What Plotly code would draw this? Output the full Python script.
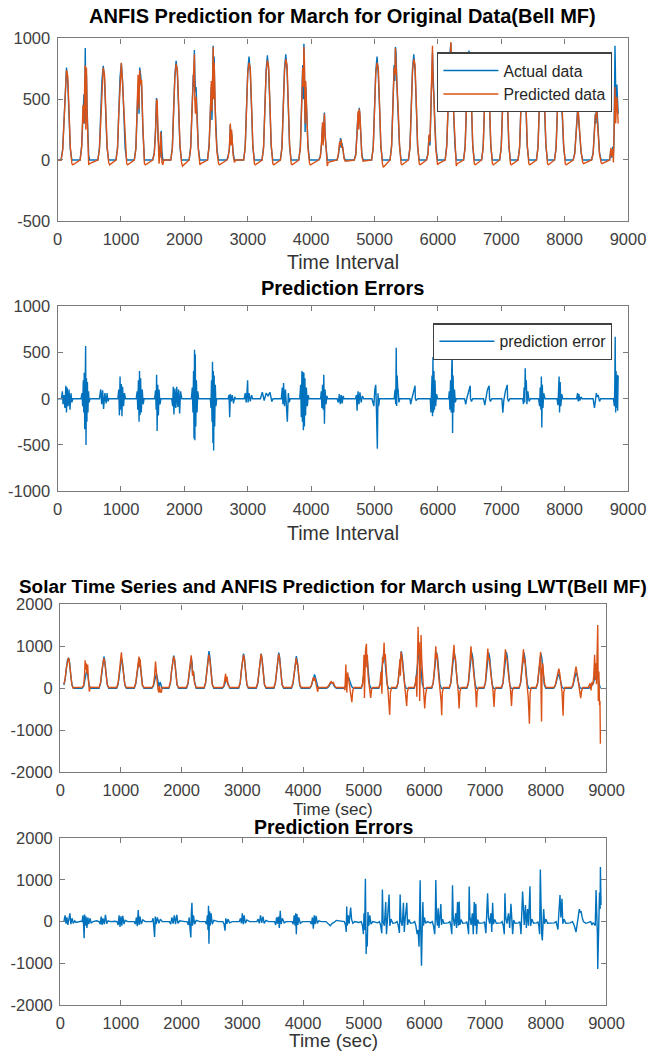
import plotly.graph_objects as go

# ---------------- Panel 1: ANFIS prediction (original data) ----------------
p1_x = [0, 55, 80, 100, 120, 140, 160, 180, 200, 225, 240,
        355, 380, 400, 415, 425, 436, 445, 455, 465, 475, 490, 505,
        635, 660, 680, 700, 720, 740, 760, 780, 805, 820,
        920, 945, 965, 985, 1005, 1025, 1045, 1065, 1090, 1105,
        1210, 1235, 1255, 1270, 1285, 1295, 1310, 1325, 1345, 1370, 1385,
        1500, 1525, 1545, 1560, 1570, 1585, 1600, 1615, 1625, 1635, 1645, 1660, 1675,
        1785, 1810, 1830, 1850, 1870, 1890, 1910, 1930, 1955, 1970,
        2075, 2100, 2120, 2140, 2150, 2158, 2165, 2175, 2185, 2200, 2220, 2245, 2260,
        2365, 2390, 2410, 2425, 2435, 2445, 2455, 2462, 2470, 2480, 2495, 2515, 2540, 2555,
        2670, 2690, 2710, 2725, 2735, 2745, 2755, 2770, 2790, 2810,
        2935, 2960, 2980, 3000, 3020, 3040, 3060, 3080, 3105, 3120,
        3225, 3250, 3270, 3290, 3310, 3330, 3350, 3370, 3395, 3410,
        3515, 3540, 3560, 3580, 3600, 3620, 3640, 3660, 3685, 3700,
        3805, 3830, 3850, 3868, 3878, 3886, 3895, 3905, 3915, 3930, 3950, 3975, 3990,
        4120, 4145, 4165, 4180, 4190, 4200, 4210, 4220, 4235, 4255, 4270,
        4410, 4430, 4450, 4465, 4475, 4485, 4500, 4520, 4540,
        4680, 4705, 4725, 4740, 4750, 4760, 4770, 4785, 4800, 4820,
        4955, 4980, 5000, 5020, 5040, 5060, 5080, 5100, 5125, 5140,
        5245, 5270, 5290, 5310, 5322, 5330, 5340, 5355, 5375, 5395, 5420, 5435,
        5535, 5560, 5580, 5600, 5620, 5640, 5660, 5680, 5705, 5720,
        5820, 5845, 5860, 5875, 5890, 5905, 5915, 5925, 5935, 5950, 5970, 5995, 6010,
        6115, 6140, 6160, 6180, 6195, 6205, 6215, 6230, 6250, 6270, 6290, 6305,
        6405, 6430, 6450, 6470, 6490, 6510, 6530, 6550, 6575, 6590,
        6690, 6715, 6735, 6755, 6775, 6795, 6815, 6835, 6860, 6875,
        6975, 7000, 7020, 7040, 7060, 7080, 7100, 7120, 7145, 7160,
        7265, 7290, 7310, 7330, 7350, 7370, 7390, 7410, 7435, 7450,
        7555, 7580, 7600, 7620, 7640, 7655, 7670, 7685, 7705, 7730, 7745,
        7840, 7865, 7885, 7905, 7925, 7945, 7965, 7985, 8010, 8025,
        8135, 8160, 8180, 8195, 8210, 8225, 8240, 8260, 8285, 8300,
        8425, 8450, 8470, 8485, 8495, 8505, 8515, 8530, 8550, 8575, 8590,
        8710, 8730, 8745, 8760, 8770, 8780, 8788, 8795, 8805, 8815, 8825, 8835, 8845]

p1_actual = [0, 0, 90, 350, 640, 760, 640, 350, 90, 0, 0,
             0, 120, 480, 540, 300, 920, 480, 700, 420, 250, 40, 0,
             0, 100, 380, 660, 775, 660, 380, 100, 0, 0,
             0, 100, 400, 680, 795, 650, 380, 100, 0, 0,
             0, 100, 400, 620, 380, 760, 700, 600, 250, 0, 0,
             0, 60, 250, 510, 420, 180, 60, 20, 120, 240, 80, 0, 0,
             0, 100, 420, 700, 815, 700, 420, 110, 0, 0,
             0, 110, 420, 700, 600, 905, 700, 560, 600, 350, 100, 0, 0,
             0, 120, 430, 600, 330, 800, 940, 600, 850, 500, 300, 80, 0, 0,
             0, 30, 90, 290, 160, 220, 100, 60, 0, 0,
             0, 110, 430, 730, 850, 720, 430, 110, 0, 0,
             0, 110, 440, 740, 860, 730, 440, 110, 0, 0,
             0, 110, 440, 750, 870, 740, 440, 110, 0, 0,
             0, 110, 450, 780, 500, 955, 700, 230, 600, 420, 120, 0, 0,
             0, 30, 130, 280, 150, 300, 390, 200, 80, 0, 0,
             0, 40, 120, 180, 100, 140, 90, 20, 0,
             0, 50, 200, 380, 300, 430, 350, 200, 50, 0,
             0, 110, 430, 730, 850, 700, 430, 110, 0, 0,
             0, 120, 450, 780, 650, 930, 880, 600, 380, 110, 0, 0,
             0, 110, 440, 750, 870, 740, 440, 110, 0, 0,
             0, 60, 200, 120, 400, 700, 880, 700, 500, 350, 100, 0, 0,
             0, 120, 450, 760, 900, 960, 800, 600, 400, 110, 0, 0,
             0, 110, 450, 760, 900, 760, 450, 110, 0, 0,
             0, 110, 440, 750, 880, 750, 440, 110, 0, 0,
             0, 110, 430, 730, 850, 720, 430, 110, 0, 0,
             0, 110, 440, 740, 865, 740, 440, 110, 0, 0,
             0, 110, 440, 740, 865, 400, 600, 420, 110, 0, 0,
             0, 100, 400, 700, 800, 560, 400, 100, 0, 0,
             0, 60, 200, 380, 460, 300, 200, 60, 0, 0,
             0, 60, 250, 380, 300, 460, 380, 200, 60, 0, 0,
             0, 80, 20, 110, 50, 200, 500, 940, 600, 450, 620, 500, 380]

p1_pred = [0, 0, 80, 330, 620, 740, 690, 380, 110, -30, -40,
           0, 110, 450, 300, 560, 780, 250, 760, 380, 200, -40, -30,
           0, 90, 360, 640, 760, 700, 400, 120, -20, -40,
           0, 90, 380, 660, 800, 620, 420, 120, -30, -40,
           0, 90, 380, 700, 420, 740, 620, 660, 280, -30, -40,
           0, 50, 230, 480, 500, 200, -30, 50, 230, 150, -20, -40, 0,
           0, 90, 400, 680, 790, 740, 440, 130, -20, -50,
           0, 100, 400, 680, 820, 870, 500, 380, 520, 300, 90, -40, -30,
           0, 110, 400, 650, 400, 900, 930, 500, 800, 600, 250, 60, -30, -40,
           0, 20, 100, 300, 120, 250, 130, 40, -20, 0,
           0, 100, 410, 710, 800, 760, 450, 130, -30, -40,
           0, 100, 420, 720, 820, 770, 460, 130, -30, -40,
           0, 100, 420, 730, 830, 780, 460, 130, -30, -40,
           0, 100, 430, 760, 600, 930, 800, 300, 650, 380, 100, -30, -40,
           0, 20, 150, 310, 120, 260, 380, 220, 60, -50, -20,
           0, 50, 150, 120, 170, 100, 110, 10, -10,
           0, 40, 220, 400, 250, 420, 380, 160, 30, -10,
           0, 100, 410, 710, 800, 760, 450, 130, -30, -60,
           0, 110, 430, 760, 700, 920, 780, 650, 400, 120, -30, -40,
           0, 100, 420, 730, 830, 780, 460, 130, -30, -40,
           0, 50, 210, 150, 450, 650, 940, 600, 550, 300, 80, -40, -30,
           0, 110, 430, 740, 850, 970, 750, 650, 380, 100, -50, -30,
           0, 100, 430, 740, 860, 790, 470, 130, -30, -40,
           0, 100, 420, 730, 840, 780, 460, 130, -30, -40,
           0, 100, 410, 710, 810, 760, 450, 130, -30, -40,
           0, 100, 420, 720, 820, 780, 460, 130, -30, -40,
           0, 100, 420, 720, 820, 450, 560, 440, 130, -30, -40,
           0, 90, 380, 680, 760, 600, 380, 120, -30, -40,
           0, 50, 220, 400, 430, 330, 180, 70, -20, -30,
           0, 50, 230, 370, 350, 470, 330, 220, 50, -20, -30,
           0, 100, 30, 90, -20, 250, 450, 600, 300, 500, 520, 420, 300]

# ---------------- Panel 2: prediction errors (original data) ----------------
p2_x = [0, 60, 75, 85, 100, 115, 130, 140, 150, 165, 180, 195, 210, 225, 240,
        370, 385, 395, 405, 412, 420, 428, 435, 442, 448, 455, 462, 470, 478, 488, 498, 510,
        660, 680, 695, 710, 725, 745, 765, 780, 795, 810,
        950, 965, 975, 985, 995, 1005, 1015, 1025, 1040, 1055, 1070,
        1240, 1255, 1265, 1275, 1285, 1292, 1300, 1310, 1320, 1335, 1350, 1365,
        1530, 1545, 1555, 1562, 1570, 1580, 1590, 1600, 1615, 1630,
        1800, 1815, 1825, 1835, 1850, 1865, 1880, 1895, 1910, 1925, 1940, 1960,
        2110, 2125, 2135, 2145, 2152, 2160, 2166, 2172, 2180, 2190, 2200, 2212, 2225,
        2410, 2420, 2428, 2436, 2444, 2450, 2456, 2462, 2470, 2478, 2488, 2498, 2510,
        2690, 2705, 2715, 2725, 2740, 2755, 2775, 2795, 2810,
        2945, 2960, 2975, 2990, 2998, 3005, 3020, 3040, 3060, 3075,
        3200, 3230, 3260, 3290, 3320, 3350, 3380, 3400,
        3530, 3545, 3555, 3565, 3580, 3595, 3610, 3625, 3640, 3655, 3670,
        3820, 3835, 3845, 3855, 3862, 3870, 3878, 3886, 3894, 3902, 3912, 3925, 3940, 3955, 3965,
        4150, 4160, 4170, 4180, 4190, 4200, 4210, 4220, 4235, 4250, 4260,
        4410, 4430, 4445, 4460, 4475, 4490, 4505, 4520,
        4700, 4715, 4725, 4740, 4755, 4770, 4790, 4810, 4830,
        4960, 4975, 4990, 5005, 5020, 5030, 5045, 5055, 5065, 5080,
        5310, 5325, 5335, 5343, 5350, 5358, 5366, 5375, 5385, 5400,
        5560, 5570, 5590, 5620, 5640, 5645, 5655, 5680,
        5880, 5890, 5900, 5908, 5915, 5922, 5930, 5938, 5946, 5955, 5965, 5980, 5995,
        6170, 6180, 6190, 6200, 6210, 6218, 6226, 6232, 6240, 6250, 6262, 6275, 6290,
        6420, 6440, 6455, 6480, 6500, 6510, 6515, 6530, 6550,
        6720, 6740, 6755, 6780, 6800, 6810, 6815, 6830, 6850,
        7010, 7025, 7040, 7065, 7085, 7095, 7100, 7115, 7135,
        7340, 7350, 7360, 7370, 7378, 7386, 7395, 7405, 7420, 7440, 7460,
        7590, 7605, 7615, 7625, 7633, 7640, 7648, 7658, 7670, 7690,
        7880, 7895, 7905, 7913, 7920, 7930, 7940, 7955, 7970,
        8190, 8205, 8215, 8225, 8240, 8260, 8275,
        8450, 8470, 8485, 8500, 8515, 8530, 8550, 8570,
        8770, 8785, 8792, 8798, 8805, 8812, 8820, 8828, 8836, 8845]

p2_error = [0, 0, 80, -60, 40, -100, 140, -150, 120, -80, 100, -120, 60, -40, 0,
            0, 60, -80, 200, -150, 280, -330, 150, 570, -500, 220, -250, 180, -150, 80, -40, 0,
            0, 100, -60, 90, -110, 60, -50, 60, -30, 0,
            0, 100, -180, 240, -120, 160, -190, 130, -80, 60, 0,
            0, 80, -120, 200, -250, 300, -180, 220, -150, 100, -60, 0,
            0, 90, -120, 260, -350, 150, -180, 100, -60, 0,
            0, -80, 130, -170, 110, -100, 130, -90, 100, -160, 80, 0,
            0, 120, -150, 300, -430, 530, -450, 480, -300, 200, -150, 80, 0,
            0, -100, 200, -250, 400, -480, 300, -560, 250, -300, 150, -80, 0,
            0, 40, -200, 50, -30, 40, -50, 20, 0,
            0, 60, -40, 90, 200, -40, 60, -30, 40, 0,
            0, 70, -20, 60, 30, 70, -30, 0,
            0, 120, -60, 170, -80, 100, -120, -250, 60, -40, 0,
            0, 150, -200, 300, -250, 290, -340, 280, -300, 220, -180, 120, -80, 40, 0,
            0, 80, -100, 150, -120, 260, -270, 100, -60, 30, 0,
            0, -40, 50, -60, 40, -50, 30, 0,
            0, 40, -130, 80, -60, 70, -40, 30, 0,
            0, -40, -80, 100, 150, -100, -540, 60, -80, 0,
            0, 100, -60, 550, -80, 250, 120, 80, -40, 0,
            0, -60, 0, 100, 140, 0, -20, 0,
            0, -150, 100, 250, -190, 450, -150, 300, -120, 200, -80, 50, 0,
            0, 80, -120, 200, -150, 300, 520, -370, 250, -150, 100, -40, 0,
            0, -60, 0, 80, 120, 140, 0, -30, 0,
            0, -70, 0, 90, 130, 140, 0, -30, 0,
            0, -150, -20, 80, 130, 150, 0, -30, 0,
            0, -60, 120, -40, 330, 100, 200, -60, 80, -30, 0,
            0, -80, 120, -120, 240, -310, 150, -100, 60, 0,
            0, -70, 100, 240, -150, 180, -80, 50, 0,
            0, 60, -30, 50, -20, 20, 0,
            0, -100, -30, 60, 20, 40, -30, 0,
            0, -80, 150, 670, -150, 300, -100, 260, -130, 250]

# ---------------- Panel 3: LWT actual and ANFIS prediction ----------------
p3_actual_x = [60, 80, 100, 120, 140, 155, 175, 195, 220,
               360, 385, 400, 415, 430, 445, 460, 480, 500,
               640, 665, 685, 705, 720, 735, 755, 775, 800,
               930, 955, 975, 995, 1010, 1025, 1045, 1065, 1090,
               1220, 1245, 1265, 1285, 1300, 1315, 1335, 1355, 1380,
               1510, 1535, 1555, 1570, 1585, 1600, 1615, 1630, 1645, 1660, 1680,
               1790, 1815, 1835, 1855, 1870, 1885, 1905, 1925, 1950,
               2080, 2105, 2125, 2145, 2160, 2172, 2182, 2195, 2215, 2240,
               2370, 2395, 2415, 2435, 2450, 2465, 2485, 2505, 2530,
               2670, 2695, 2715, 2735, 2750, 2770, 2795,
               2940, 2965, 2985, 3005, 3020, 3035, 3055, 3075, 3100,
               3230, 3255, 3275, 3295, 3310, 3325, 3345, 3365, 3390,
               3520, 3545, 3565, 3585, 3600, 3615, 3635, 3655, 3680,
               3810, 3835, 3855, 3875, 3890, 3905, 3925, 3945, 3970,
               4110, 4135, 4155, 4175, 4190, 4205, 4225, 4245, 4265,
               4390, 4420, 4445, 4470, 4495, 4520, 4550,
               4670, 4700, 4720, 4740, 4755, 4775, 4800, 4830,
               4960, 4985, 5005, 5025, 5040, 5055, 5075, 5095, 5120,
               5250, 5275, 5295, 5315, 5330, 5345, 5365, 5385, 5410,
               5540, 5565, 5585, 5605, 5620, 5635, 5655, 5675, 5700,
               5830, 5855, 5875, 5895, 5910, 5925, 5945, 5965, 5990,
               6120, 6145, 6165, 6185, 6200, 6215, 6235, 6255, 6280,
               6410, 6435, 6455, 6475, 6490, 6505, 6525, 6545, 6570,
               6700, 6725, 6745, 6765, 6780, 6795, 6815, 6835, 6860,
               6980, 7005, 7025, 7045, 7060, 7075, 7095, 7115, 7140,
               7270, 7295, 7315, 7335, 7350, 7365, 7385, 7405, 7430,
               7560, 7585, 7605, 7625, 7640, 7655, 7675, 7695, 7720,
               7840, 7865, 7885, 7905, 7920, 7935, 7955, 7975, 8000,
               8130, 8155, 8175, 8195, 8210, 8225, 8245, 8265, 8290,
               8420, 8445, 8465, 8485, 8500, 8515, 8535, 8555, 8580,
               8710, 8740, 8765, 8790, 8810, 8830, 8845, 8860, 8880, 8900]

p3_actual = [80, 200, 450, 680, 720, 600, 300, 80, 0,
             0, 50, 150, 300, 380, 400, 250, 60, 0,
             0, 120, 400, 690, 760, 650, 350, 90, 0,
             0, 110, 380, 650, 720, 620, 330, 80, 0,
             0, 110, 380, 650, 720, 620, 330, 80, 0,
             0, 60, 200, 330, 350, 250, 80, 30, 150, 60, 0,
             0, 120, 420, 720, 780, 680, 360, 90, 0,
             0, 110, 380, 650, 720, 600, 350, 400, 150, 0,
             0, 130, 450, 820, 890, 760, 400, 100, 0,
             0, 40, 120, 200, 180, 90, 0,
             0, 120, 430, 770, 830, 720, 380, 90, 0,
             0, 120, 430, 770, 830, 720, 380, 90, 0,
             0, 130, 440, 790, 850, 740, 390, 90, 0,
             0, 110, 400, 700, 770, 650, 350, 80, 0,
             0, 50, 150, 280, 330, 260, 130, 30, 0,
             0, 40, 110, 150, 110, 40, 0,
             0, 50, 150, 240, 250, 160, 50, 0,
             0, 130, 450, 790, 850, 740, 400, 100, 0,
             0, 130, 450, 790, 850, 740, 400, 100, 0,
             0, 130, 460, 820, 880, 760, 410, 100, 0,
             0, 130, 460, 840, 900, 780, 420, 100, 0,
             0, 130, 450, 800, 860, 750, 400, 100, 0,
             0, 130, 450, 810, 870, 760, 400, 100, 0,
             0, 130, 450, 800, 860, 750, 400, 100, 0,
             0, 130, 440, 790, 850, 740, 400, 100, 0,
             0, 130, 450, 810, 870, 760, 400, 100, 0,
             0, 130, 440, 790, 850, 740, 400, 100, 0,
             0, 120, 430, 770, 830, 720, 380, 90, 0,
             0, 60, 180, 300, 350, 290, 150, 40, 0,
             0, 60, 190, 330, 380, 320, 160, 40, 0,
             0, 40, 80, 150, 300, 450, 350, 200, 100, 0]

p3_pred_x = [60, 80, 100, 120, 135, 150, 170, 190, 210, 240,
             360, 385, 400, 410, 418, 428, 440, 452, 465, 480, 490, 505,
             640, 665, 685, 705, 718, 732, 752, 775, 800,
             930, 955, 975, 995, 1008, 1020, 1040, 1065, 1090,
             1220, 1245, 1265, 1285, 1298, 1305, 1315, 1335, 1355, 1380,
             1510, 1535, 1555, 1570, 1580, 1595, 1610, 1625, 1635, 1650, 1665, 1680,
             1790, 1815, 1835, 1855, 1868, 1882, 1902, 1925, 1950,
             2080, 2105, 2125, 2145, 2158, 2170, 2180, 2192, 2212, 2240,
             2370, 2395, 2415, 2435, 2448, 2462, 2482, 2505, 2530,
             2670, 2695, 2712, 2725, 2735, 2748, 2765, 2795,
             2940, 2965, 2985, 3005, 3018, 3032, 3052, 3075, 3100,
             3230, 3255, 3275, 3295, 3308, 3322, 3342, 3365, 3390,
             3520, 3545, 3565, 3585, 3598, 3612, 3632, 3655, 3680,
             3810, 3835, 3855, 3875, 3888, 3902, 3912, 3930, 3950, 3975,
             4110, 4135, 4155, 4172, 4185, 4198, 4215, 4230, 4242, 4255, 4275,
             4390, 4420, 4445, 4465, 4480, 4500, 4525, 4550,
             4670, 4690, 4700, 4706, 4714, 4722, 4735, 4750, 4765, 4785, 4805, 4820, 4840,
             4960, 4980, 4995, 5005, 5012, 5020, 5030, 5045, 5052, 5060, 5072, 5085, 5100, 5115, 5130, 5150,
             5250, 5270, 5285, 5300, 5310, 5322, 5336, 5345, 5355, 5368, 5385, 5400, 5415, 5428, 5440, 5460,
             5540, 5565, 5585, 5598, 5605, 5614, 5625, 5640, 5655, 5675, 5692, 5708, 5720, 5740,
             5830, 5850, 5865, 5875, 5885, 5896, 5905, 5915, 5922, 5932, 5945, 5955, 5965, 5978, 5990, 6005, 6020, 6040,
             6120, 6145, 6165, 6178, 6188, 6198, 6210, 6225, 6245, 6262, 6275, 6285, 6295, 6315,
             6410, 6435, 6455, 6472, 6488, 6498, 6510, 6525, 6545, 6558, 6572, 6585, 6605,
             6700, 6725, 6745, 6760, 6768, 6780, 6792, 6810, 6830, 6845, 6858, 6870, 6890,
             6980, 7005, 7022, 7035, 7045, 7058, 7070, 7090, 7110, 7130, 7148, 7160, 7180,
             7270, 7295, 7312, 7325, 7335, 7348, 7360, 7380, 7400, 7420, 7435, 7448, 7470,
             7560, 7585, 7605, 7620, 7632, 7645, 7655, 7672, 7690, 7710, 7730, 7742, 7760,
             7840, 7865, 7885, 7900, 7915, 7922, 7930, 7938, 7950, 7965, 7985, 8005,
             8130, 8155, 8175, 8195, 8215, 8230, 8250, 8268, 8285, 8295, 8315,
             8420, 8445, 8465, 8485, 8498, 8512, 8530, 8548, 8562, 8575, 8590, 8610,
             8700, 8730, 8745, 8760, 8775, 8790, 8805, 8815, 8825, 8835, 8845, 8856, 8865, 8875, 8885, 8892, 8900]

p3_pred = [100, 220, 480, 700, 730, 640, 320, 100, 10, 20,
           30, 60, 300, 667, 450, 600, 350, 570, 200, -80, 0, 30,
           20, 150, 420, 700, 720, 640, 340, 90, 20,
           20, 140, 400, 700, 860, 640, 320, 80, 20,
           20, 140, 400, 680, 760, 500, 700, 320, 70, 20,
           20, 80, 300, 640, 350, 200, -20, -100, 60, -80, -100, 20,
           20, 140, 420, 700, 760, 700, 360, 80, 20,
           20, 130, 400, 700, 790, 560, 300, 420, 130, 20,
           20, 140, 440, 760, 800, 720, 380, 90, 20,
           20, 60, 200, 350, 150, 280, 80, 20,
           20, 140, 430, 750, 800, 720, 380, 90, 20,
           20, 140, 430, 760, 820, 720, 380, 90, 20,
           20, 140, 440, 770, 820, 740, 390, 90, 20,
           20, 130, 400, 680, 730, 560, 600, 300, 70, 20,
           20, 60, 160, 270, 180, 250, 100, -20, -80, 30, 20,
           20, 60, 130, 160, 120, 140, 50, 20,
           20, -40, 300, 570, 100, -100, 380, 200, 50, -100, -330, -50, 20,
           20, 100, 350, 800, -230, 600, 900, 1060, 500, 800, 300, 100, -100, -230, -20, 20,
           20, 120, 400, -130, 750, 600, 1090, 700, 820, 400, 150, -50, -300, -630, -100, 20,
           20, 130, 460, 700, 300, 870, 800, 600, 380, 100, -100, -420, -80, 20,
           20, 100, 300, -200, 600, 1470, 800, 1100, -300, 900, 1270, 700, 400, 150, -100, -480, -150, 20,
           20, 130, 450, 750, 1000, 700, 820, 450, 200, -50, -300, -640, -100, 20,
           20, 130, 450, 780, 1040, 700, 750, 420, 150, -100, -480, -80, 20,
           20, 130, 450, 780, 1000, 700, 720, 400, 150, -80, -450, -80, 20,
           20, 130, 450, 750, 950, 680, 720, 400, 150, -60, -440, -60, 20,
           20, 130, 450, 750, 930, 700, 720, 400, 150, -60, -420, -60, 20,
           20, 130, 450, 760, 930, 600, 700, 350, 100, -200, -840, -100, 20,
           20, 120, 430, 700, 870, -100, -790, 400, 600, 300, 80, 20,
           20, 70, 200, 380, 470, 350, 150, -100, -650, -100, 20,
           20, 70, 220, 400, 520, 400, 200, -50, -200, -230, -60, 20,
           20, 120, -50, 150, 80, 300, 800, 200, 600, 100, 800, 1510, -300, 400, -400, -300, -1320]

# ---------------- Panel 4: prediction errors (LWT) ----------------
p4_x = [60, 80, 95, 110, 125, 140, 160, 175, 195, 215, 240, 260, 300, 340,
        360, 375, 385, 394, 402, 412, 425, 440, 455, 470, 490, 510, 540, 600,
        640, 660, 675, 690, 705, 725, 745, 765, 790, 830, 900,
        935, 955, 970, 985, 1000, 1015, 1030, 1050, 1070, 1110, 1180,
        1220, 1240, 1255, 1270, 1285, 1300, 1315, 1335, 1360, 1400, 1470,
        1510, 1530, 1545, 1555, 1565, 1580, 1600, 1625, 1650, 1680, 1760,
        1800, 1820, 1840, 1860, 1880, 1900, 1920, 1940, 1970, 2050,
        2090, 2110, 2125, 2140, 2152, 2160, 2170, 2180, 2195, 2215, 2240, 2300, 2360,
        2390, 2410, 2425, 2435, 2443, 2450, 2460, 2470, 2485, 2505, 2530, 2600, 2650,
        2680, 2700, 2715, 2728, 2745, 2765, 2790, 2830, 2920,
        2950, 2970, 2985, 3000, 3015, 3030, 3050, 3075, 3120, 3210,
        3240, 3260, 3280, 3300, 3320, 3340, 3360, 3390, 3430, 3500,
        3530, 3550, 3565, 3580, 3595, 3610, 3625, 3640, 3660, 3690, 3720, 3790,
        3820, 3840, 3855, 3870, 3880, 3890, 3900, 3915, 3930, 3955, 3990, 4090,
        4120, 4140, 4155, 4170, 4185, 4200, 4215, 4235, 4260, 4300,
        4380, 4420, 4450, 4480, 4510, 4550, 4600, 4650,
        4680, 4700, 4712, 4720, 4730, 4745, 4760, 4785, 4800, 4820, 4850, 4920,
        4960, 4980, 4995, 5005, 5015, 5028, 5040, 5048, 5058, 5070, 5085, 5100, 5120, 5150, 5230,
        5260, 5280, 5298, 5308, 5320, 5340, 5363, 5375, 5390, 5418, 5430, 5450, 5480, 5520,
        5550, 5570, 5588, 5600, 5615, 5635, 5655, 5668, 5685, 5710, 5722, 5745, 5770, 5810,
        5840, 5860, 5880, 5895, 5912, 5930, 5940, 5952, 5962, 5975, 5985, 6000, 6020, 6050, 6100,
        6130, 6150, 6170, 6180, 6188, 6200, 6215, 6227, 6240, 6255, 6271, 6282, 6300, 6320, 6390,
        6420, 6435, 6452, 6463, 6475, 6495, 6515, 6530, 6546, 6560, 6573, 6585, 6605, 6630, 6680,
        6700, 6712, 6728, 6738, 6750, 6770, 6790, 6805, 6821, 6835, 6848, 6860, 6875, 6900, 6970,
        6990, 7000, 7013, 7041, 7055, 7075, 7095, 7110, 7124, 7138, 7160, 7185, 7260,
        7280, 7300, 7316, 7327, 7340, 7360, 7385, 7405, 7426, 7440, 7454, 7470, 7495, 7550,
        7570, 7580, 7591, 7618, 7630, 7645, 7665, 7680, 7700, 7715, 7739, 7750, 7770, 7800, 7850,
        7870, 7885, 7898, 7910, 7922, 7932, 7943, 7952, 7965, 7980, 8000, 8030, 8140,
        8170, 8185, 8200, 8215, 8234, 8248, 8267, 8280, 8300, 8330, 8400,
        8440, 8470, 8498, 8515, 8530, 8545, 8553, 8565, 8580, 8600, 8620, 8660, 8720,
        8740, 8760, 8780, 8800, 8815, 8828, 8840, 8850, 8856, 8865, 8875, 8885, 8895, 8900, 8910]

p4_error = [0, 150, -50, 100, -80, 60, 200, -60, 80, -40, 20, -20, 0, 10,
            0, 150, -100, -400, 170, -100, 120, -150, 100, -60, 80, -30, 0, 20,
            0, -60, 120, -80, 80, -60, 160, -50, 20, 0, 10,
            0, -80, 150, -130, 130, -100, 140, -60, 30, 0, 0,
            0, -60, 100, -110, 280, -80, 120, -60, 40, 0, 0,
            0, 80, -120, -370, 120, -60, 100, -40, 60, 0, 0,
            0, -60, 100, -50, 150, -60, 160, -40, 20, 0,
            0, -80, 100, -200, -380, 200, 450, -100, 150, -60, 30, 0, 0,
            0, -60, 150, -200, 380, -530, 250, -100, 200, -60, 30, 0, 0,
            0, -60, -220, 80, -50, 60, -30, 0, 0,
            0, 80, -40, 200, -60, 150, -40, 40, 0, 0,
            0, 60, -40, 150, -30, 120, -40, 30, 0, 0,
            0, -80, 100, -50, 120, -150, 260, -60, 80, -30, 0, 0,
            0, -60, 150, -100, 200, -300, 180, -80, 100, -40, 0, 0,
            0, -60, 100, -170, 150, -60, 140, -40, 20, 0,
            0, -60, -100, -40, -20, 30, 20, 0,
            0, -80, -250, 360, -100, 150, -50, 340, 60, -40, 0, -20,
            0, -100, -300, 200, -200, 1030, -780, -300, -600, 230, -100, 150, -60, 0, -30,
            0, -100, -280, 770, 0, -100, 470, -300, 100, 650, -100, 60, -40, -30,
            0, -100, -270, 650, 0, -100, 450, -250, 100, 450, -80, 50, -40, -30,
            0, -100, -300, -200, -600, 990, -200, -1060, -300, 470, -100, 100, -40, 0, -30,
            0, -100, -300, 100, 1000, 100, -100, 320, -150, 100, 420, -80, 60, -40, -30,
            0, -100, -300, 870, 100, -100, 200, -150, 470, -100, 480, -80, 50, -40, -30,
            0, -100, -300, 840, 100, -80, 200, -300, 470, -100, 430, -300, 50, -40, -30,
            0, -100, -280, 680, 100, -50, 200, -250, 450, -60, 50, -40, -30,
            0, -100, -300, 680, 100, -50, 200, -150, 430, -80, -300, 40, -40, -30,
            0, -100, -300, 720, 100, -80, 400, -150, 300, -100, 850, -100, 60, -40, -30,
            0, -100, -300, 1250, -200, -300, -450, -100, 300, -50, 60, -40, -30,
            0, -100, -190, 200, 640, 100, 550, -50, 60, -40, -30,
            0, -100, -250, -50, 150, 260, 300, 220, 250, 100, 0, -40, -20,
            0, -80, -30, -60, -100, 760, 200, -300, -1140, -200, 400, 700, 300, 1310, 400]

X_TICKS = [0, 1000, 2000, 3000, 4000, 5000, 6000, 7000, 8000, 9000]
Y_TICKS_1 = [-500, 0, 500, 1000]
Y_TICKS_2 = [-1000, -500, 0, 500, 1000]
Y_TICKS_34 = [-2000, -1000, 0, 1000, 2000]

TITLES = ["ANFIS Prediction for March for Original Data(Bell MF)",
          "Prediction Errors",
          "Solar Time Series and ANFIS Prediction for March using LWT(Bell MF)",
          "Prediction Errors"]
XLABELS = ["Time Interval", "Time Interval", "Time (sec)", "Time (sec)"]

BLUE = "#0072BD"
ORANGE = "#D95319"
FONT = "Liberation Sans, Arial, Helvetica, sans-serif"

fig = go.Figure()
fig.add_trace(go.Scatter(x=p1_x, y=p1_actual, mode="lines", name="Actual data",
                         line=dict(color=BLUE, width=1.4), xaxis="x", yaxis="y", legend="legend"))
fig.add_trace(go.Scatter(x=p1_x, y=p1_pred, mode="lines", name="Predicted data",
                         line=dict(color=ORANGE, width=1.4), xaxis="x", yaxis="y", legend="legend"))
fig.add_trace(go.Scatter(x=p2_x, y=p2_error, mode="lines", name="prediction error",
                         line=dict(color=BLUE, width=1.4), xaxis="x2", yaxis="y2", legend="legend2"))
fig.add_trace(go.Scatter(x=p3_actual_x, y=p3_actual, mode="lines", showlegend=False,
                         line=dict(color=BLUE, width=1.4), xaxis="x3", yaxis="y3"))
fig.add_trace(go.Scatter(x=p3_pred_x, y=p3_pred, mode="lines", showlegend=False,
                         line=dict(color=ORANGE, width=1.4), xaxis="x3", yaxis="y3"))
fig.add_trace(go.Scatter(x=p4_x, y=p4_error, mode="lines", showlegend=False,
                         line=dict(color=BLUE, width=1.4), xaxis="x4", yaxis="y4"))

# Layout positions are given in reference-image pixels and mapped onto the page
# (the captured page appears slightly scaled in the photograph).
SX, OX = 0.965, 4.8
SY, OY = 0.9835, 7.6
W, H = 666, 1061
AX_COLOR = "#7a7a7a"
TICK_FONT = dict(family=FONT, size=16.5, color="#404040")


def page_x(r):
    return (r - OX) / SX


def page_y(r):
    return (r - OY) / SY


def px_x(r):
    return page_x(r) / W


def px_y(r):
    return 1 - page_y(r) / H


def xax(dom, anchor):
    return dict(domain=dom, anchor=anchor, range=[0, 9000], tickvals=X_TICKS,
                ticktext=[str(v) for v in X_TICKS], ticks="inside", ticklen=5,
                tickcolor=AX_COLOR, showline=True, linecolor=AX_COLOR, linewidth=1.3,
                mirror="ticks", showgrid=False, zeroline=False, tickfont=TICK_FONT,
                ticklabelstandoff=3)


def yax(dom, anchor, rng, vals):
    return dict(domain=dom, anchor=anchor, range=rng, tickvals=vals,
                ticktext=[str(v) for v in vals], ticks="inside", ticklen=5,
                tickcolor=AX_COLOR, showline=True, linecolor=AX_COLOR, linewidth=1.3,
                mirror="ticks", showgrid=False, zeroline=False, tickfont=TICK_FONT,
                ticklabelstandoff=3)


dom_x12 = [px_x(57.4), px_x(627.5)]
dom_x34 = [px_x(60), px_x(606)]
dom_y1 = [px_y(219.5), px_y(37)]
dom_y2 = [px_y(490), px_y(305)]
dom_y3 = [px_y(771.3), px_y(603.3)]
dom_y4 = [px_y(1004), px_y(837.3)]

cx12 = px_x((57.4 + 627.5) / 2)
cx34 = px_x((60 + 606) / 2)
title_y = [15, 287, 585.5, 825.5]
title_x = [cx12, cx12, cx34, cx34]
title_size = [20, 20, 18.9, 19.5]
xlabel_y = [261, 532, 808, 1040]
xlabel_size = [19.5, 19.5, 17, 19]

annotations = []
for t, tx, ty, ts in zip(TITLES, title_x, title_y, title_size):
    annotations.append(dict(text="<b>" + t + "</b>", x=tx, y=px_y(ty), xref="paper", yref="paper",
                            xanchor="center", yanchor="middle", showarrow=False, borderpad=0,
                            font=dict(family=FONT, size=ts, color="#000000")))
for t, tx, ty, ts in zip(XLABELS, title_x, xlabel_y, xlabel_size):
    annotations.append(dict(text=t, x=tx, y=px_y(ty), xref="paper", yref="paper",
                            xanchor="center", yanchor="middle", showarrow=False, borderpad=0,
                            font=dict(family=FONT, size=ts, color="#333333")))

fig.update_layout(
    width=W, height=H, margin=dict(l=0, r=0, t=0, b=0),
    paper_bgcolor="white", plot_bgcolor="white",
    font=dict(family=FONT),
    xaxis=xax(dom_x12, "y"), yaxis=yax(dom_y1, "x", [-500, 1000], Y_TICKS_1),
    xaxis2=xax(dom_x12, "y2"), yaxis2=yax(dom_y2, "x2", [-1000, 1000], Y_TICKS_2),
    xaxis3=xax(dom_x34, "y3"), yaxis3=yax(dom_y3, "x3", [-2000, 2000], Y_TICKS_34),
    xaxis4=xax(dom_x34, "y4"), yaxis4=yax(dom_y4, "x4", [-2000, 2000], Y_TICKS_34),
    legend=dict(x=px_x(611.6), y=px_y(51), xanchor="right", yanchor="top",
                bgcolor="white", bordercolor="#404040", borderwidth=1.3,
                font=dict(family=FONT, size=15.8, color="#262626"), itemwidth=55,
                tracegroupgap=0),
    legend2=dict(x=px_x(611.6), y=px_y(322), xanchor="right", yanchor="top",
                 bgcolor="white", bordercolor="#404040", borderwidth=1.3,
                 font=dict(family=FONT, size=15.8, color="#262626"), itemwidth=55),
    annotations=annotations,
    showlegend=True,
)

# remove the default page margin so the figure starts at the window's corner
PAGE_CSS = "document.body.style.margin='0px';document.body.style.padding='0px';"
fig.write_html("out.html", post_script=PAGE_CSS, config={"displayModeBar": False})
